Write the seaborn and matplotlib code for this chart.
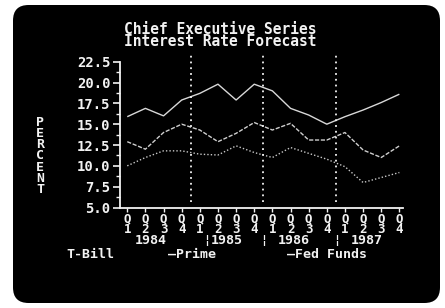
import numpy as np
import pandas as pd
import seaborn as sns
import matplotlib.pyplot as plt
from matplotlib.patches import FancyBboxPatch
from matplotlib.ticker import MultipleLocator

# quarterly values
quarters = ["Q1", "Q2", "Q3", "Q4"] * 4
years = ["1984", "1985", "1986", "1987"]
prime = [15.9, 16.9, 16.0, 17.9, 18.7, 19.8, 17.9, 19.8,
         19.0, 16.9, 16.1, 15.0, 15.9, 16.7, 17.6, 18.6]
fed_funds = [12.9, 12.0, 14.0, 15.0, 14.3, 12.9, 13.9, 15.2,
             14.3, 15.1, 13.1, 13.1, 14.0, 11.9, 11.0, 12.4]
t_bill = [10.0, 11.0, 11.8, 11.8, 11.4, 11.3, 12.4, 11.6,
          11.0, 12.2, 11.5, 10.8, 9.9, 8.0, 8.6, 9.2]

idx = list(range(len(quarters)))
df = pd.DataFrame({
    "idx": idx * 3,
    "rate": prime + fed_funds + t_bill,
    "series": ["Prime"] * 16 + ["Fed Funds"] * 16 + ["T-Bill"] * 16,
})

sns.set_style("dark")
plt.rcParams["font.family"] = ["DejaVu Sans Mono"]
plt.rcParams["font.weight"] = "bold"

W, H = 445, 308
fig = plt.figure(figsize=(W / 100, H / 100), dpi=100, facecolor="white")

# black CRT screen
screen = FancyBboxPatch((13 / W, 5 / H), 427 / W, 298 / H,
                        boxstyle="round,pad=0,rounding_size=0.035",
                        mutation_aspect=W / H, transform=fig.transFigure,
                        facecolor="black", edgecolor="none", zorder=-5)
fig.patches.append(screen)

ax_top, ax_bot = 61.7, 207.5
ax = fig.add_axes([120 / W, 1 - ax_bot / H, 283 / W, (ax_bot - ax_top) / H])
ax.set_facecolor("none")
ax.set_zorder(1)

fg = "#f2f2f2"
sns.lineplot(data=df, x="idx", y="rate", hue="series", style="series",
             palette={"Prime": "#d8d8d8", "Fed Funds": "#cfcfcf", "T-Bill": "#c8c8c8"},
             dashes={"Prime": (1, 0), "Fed Funds": (3, 1.2), "T-Bill": (1, 1.5)},
             linewidth=1.0, legend=False, ax=ax)

# dotted year separators
for xs in [3.5, 7.48, 11.5]:
    ax.axvline(xs, ymin=0.036, ymax=1.05, color=fg, lw=1.3,
               linestyle=(0, (1, 2.2)), clip_on=False)

ax.set_xlim(-0.4, 15.2)
ax.set_ylim(5, 22.5)
ax.yaxis.set_major_locator(MultipleLocator(2.5))
ax.yaxis.set_minor_locator(MultipleLocator(1.25))
ax.yaxis.set_major_formatter(lambda v, p: f"{v:.1f}")
ax.set_xticks(idx)
ax.set_xticklabels([""] * len(idx))

ax.grid(False)
for s in ["top", "right"]:
    ax.spines[s].set_visible(False)
for s in ["left", "bottom"]:
    ax.spines[s].set_color(fg)
    ax.spines[s].set_linewidth(1.3)
ax.tick_params(axis="y", which="major", length=5, width=1.2, color=fg,
               labelcolor=fg, labelsize=10, pad=2, left=True)
ax.tick_params(axis="y", which="minor", length=3, width=1.0, color=fg, left=True)
ax.tick_params(axis="x", length=3, width=1, color=fg, bottom=True)
ax.set_xlabel("")
ax.set_ylabel("")

# quarter labels (Q over digit), years underneath
span = ax_bot - ax_top
def row(py):
    return (ax_bot - py) / span

tr = ax.get_xaxis_transform()
for i, q in zip(idx, quarters):
    ax.text(i, row(224.5), f"{q[0]}\n{q[1]}", transform=tr, ha="center",
            va="center", color=fg, fontsize=9, linespacing=0.78, clip_on=False)
for x, yr in zip([1.3, 5.5, 9.2, 13.2], years):
    ax.text(x, row(241), yr, transform=tr, ha="center", va="center",
            color=fg, fontsize=9.5, clip_on=False)
for x in [4.36, 7.53, 11.56]:
    ax.text(x, row(241), "¦", transform=tr, ha="center", va="center",
            color=fg, fontsize=8.5, clip_on=False)

def ftext(px, py, s, **kw):
    fig.text(px / W, 1 - py / H, s, color=fg, **kw)

ftext(220, 35.5, "Chief Executive Series\nInterest Rate Forecast",
      ha="center", va="center", fontsize=10.5, linespacing=0.7)
ftext(40, 156, "P\nE\nR\nC\nE\nN\nT", ha="center", va="center",
      fontsize=9.5, linespacing=0.82)
ftext(66, 255, "T-Bill", ha="left", va="center", fontsize=9.5)
ftext(168, 255, "—Prime", ha="left", va="center", fontsize=9.5)
ftext(287, 255, "—Fed Funds", ha="left", va="center", fontsize=9.5)

fig.savefig("out.png", dpi=100, facecolor="white")
